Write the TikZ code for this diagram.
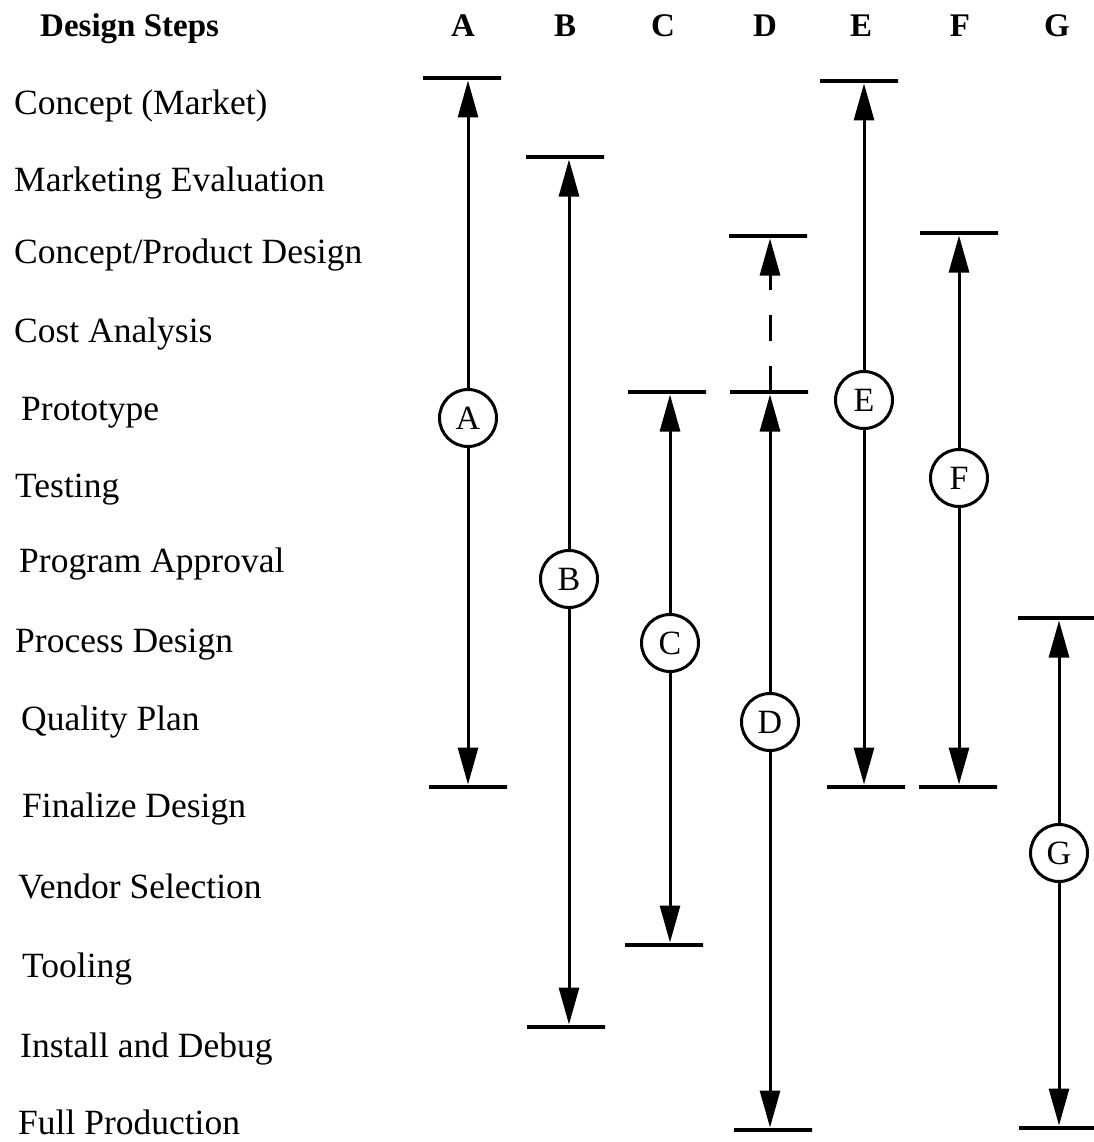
\documentclass[tikz,border=0pt]{standalone}
\usepackage{fontspec}
\setmainfont{Liberation Serif}
\usepackage{tikz}
\usetikzlibrary{arrows.meta,positioning,calc}
\tikzset{
  steplabel/.style={anchor=base west,inner sep=0pt,font=\fontsize{35.5}{40}\selectfont},
  colhead/.style={anchor=base,inner sep=0pt,font=\fontsize{33}{38}\selectfont\bfseries},
  phase/.style={draw,circle,line width=3pt,minimum size=57pt,inner sep=0pt,
                font=\fontsize{34}{38}\selectfont},
  endbar/.style={draw,rectangle,line width=4pt,minimum width=78pt,
                 minimum height=0pt,inner sep=0pt},
  spanarrow/.style={-{Triangle[length=37pt,width=20pt]},line width=3pt,
                    shorten >=2.5pt},
  futurespan/.style={spanarrow,dash pattern=on 26pt off 25pt},
}

\begin{document}
\begin{tikzpicture}[x=1pt,y=-1pt]
  \useasboundingbox (0,0) rectangle (1093,1142);

  % column heads
  \node[colhead,anchor=base west] (hsteps) at (40,37) {Design Steps};
  \node[colhead] (hA) at (463,37) {A};
  \node[colhead] (hB) at (565,37) {B};
  \node[colhead] (hC) at (663,37) {C};
  \node[colhead] (hD) at (765,37) {D};
  \node[colhead] (hE) at (861,37) {E};
  \node[colhead] (hF) at (960,37) {F};
  \node[colhead] (hG) at (1057,37) {G};

  % design steps
  \node[steplabel] (market)   at (14,115)  {Concept (Market)};
  \node[steplabel] (markeval) at (14,191)  {Marketing Evaluation};
  \node[steplabel] (proddes)  at (14,263)  {Concept/Product Design};
  \node[steplabel] (cost)     at (14,342)  {Cost Analysis};
  \node[steplabel] (proto)    at (21,420)  {Prototype};
  \node[steplabel] (testing)  at (15,497)  {Testing};
  \node[steplabel] (approval) at (19,572)  {Program Approval};
  \node[steplabel] (procdes)  at (15,652)  {Process Design};
  \node[steplabel] (quality)  at (21,730)  {Quality Plan};
  \node[steplabel] (finalize) at (22,817)  {Finalize Design};
  \node[steplabel] (vendor)   at (18,898)  {Vendor Selection};
  \node[steplabel] (tooling)  at (22,977)  {Tooling};
  \node[steplabel] (debug)    at (20,1057) {Install and Debug};
  \node[steplabel] (fullprod) at (18,1134) {Full Production};

  % bars
  \node[endbar] (Atop) at (462,78) {};
  \node[endbar] (Abot) at (468,787) {};
  \node[endbar] (Btop) at (565,157) {};
  \node[endbar] (Bbot) at (566,1027) {};
  \node[endbar] (Ctop) at (667,392) {};
  \node[endbar] (Cbot) at (664,945) {};
  \node[endbar] (Dtop) at (768,236) {};
  \node[endbar] (Dmid) at (769,392) {};
  \node[endbar] (Dbot) at (773,1130) {};
  \node[endbar] (Etop) at (859,81) {};
  \node[endbar] (Ebot) at (866,787) {};
  \node[endbar] (Ftop) at (959,233) {};
  \node[endbar] (Fbot) at (958,787) {};
  \node[endbar] (Gtop) at (1057,618) {};
  \node[endbar] (Gbot) at (1058,1128) {};

  % alternatives
  \node[phase] (Acirc) at (468,418) {A};
  \node[phase] (Bcirc) at (569,579) {B};
  \node[phase] (Ccirc) at (670,643) {C};
  \node[phase] (Dcirc) at (770,722) {D};
  \node[phase] (Ecirc) at (864,400) {E};
  \node[phase] (Fcirc) at (959,478) {F};
  \node[phase] (Gcirc) at (1059,853) {G};

  \draw[spanarrow] (Acirc) -- (Acirc |- Atop);
  \draw[spanarrow] (Acirc) -- (Acirc |- Abot);
  \draw[spanarrow] (Bcirc) -- (Bcirc |- Btop);
  \draw[spanarrow] (Bcirc) -- (Bcirc |- Bbot);
  \draw[spanarrow] (Ccirc) -- (Ccirc |- Ctop);
  \draw[spanarrow] (Ccirc) -- (Ccirc |- Cbot);
  \draw[spanarrow] (Dcirc) -- (Dcirc |- Dmid);
  \draw[futurespan] (Dcirc |- Dmid) -- (Dcirc |- Dtop);
  \draw[spanarrow] (Dcirc) -- (Dcirc |- Dbot);
  \draw[spanarrow] (Ecirc) -- (Ecirc |- Etop);
  \draw[spanarrow] (Ecirc) -- (Ecirc |- Ebot);
  \draw[spanarrow] (Fcirc) -- (Fcirc |- Ftop);
  \draw[spanarrow] (Fcirc) -- (Fcirc |- Fbot);
  \draw[spanarrow] (Gcirc) -- (Gcirc |- Gtop);
  \draw[spanarrow] (Gcirc) -- (Gcirc |- Gbot);
\end{tikzpicture}
\end{document}
